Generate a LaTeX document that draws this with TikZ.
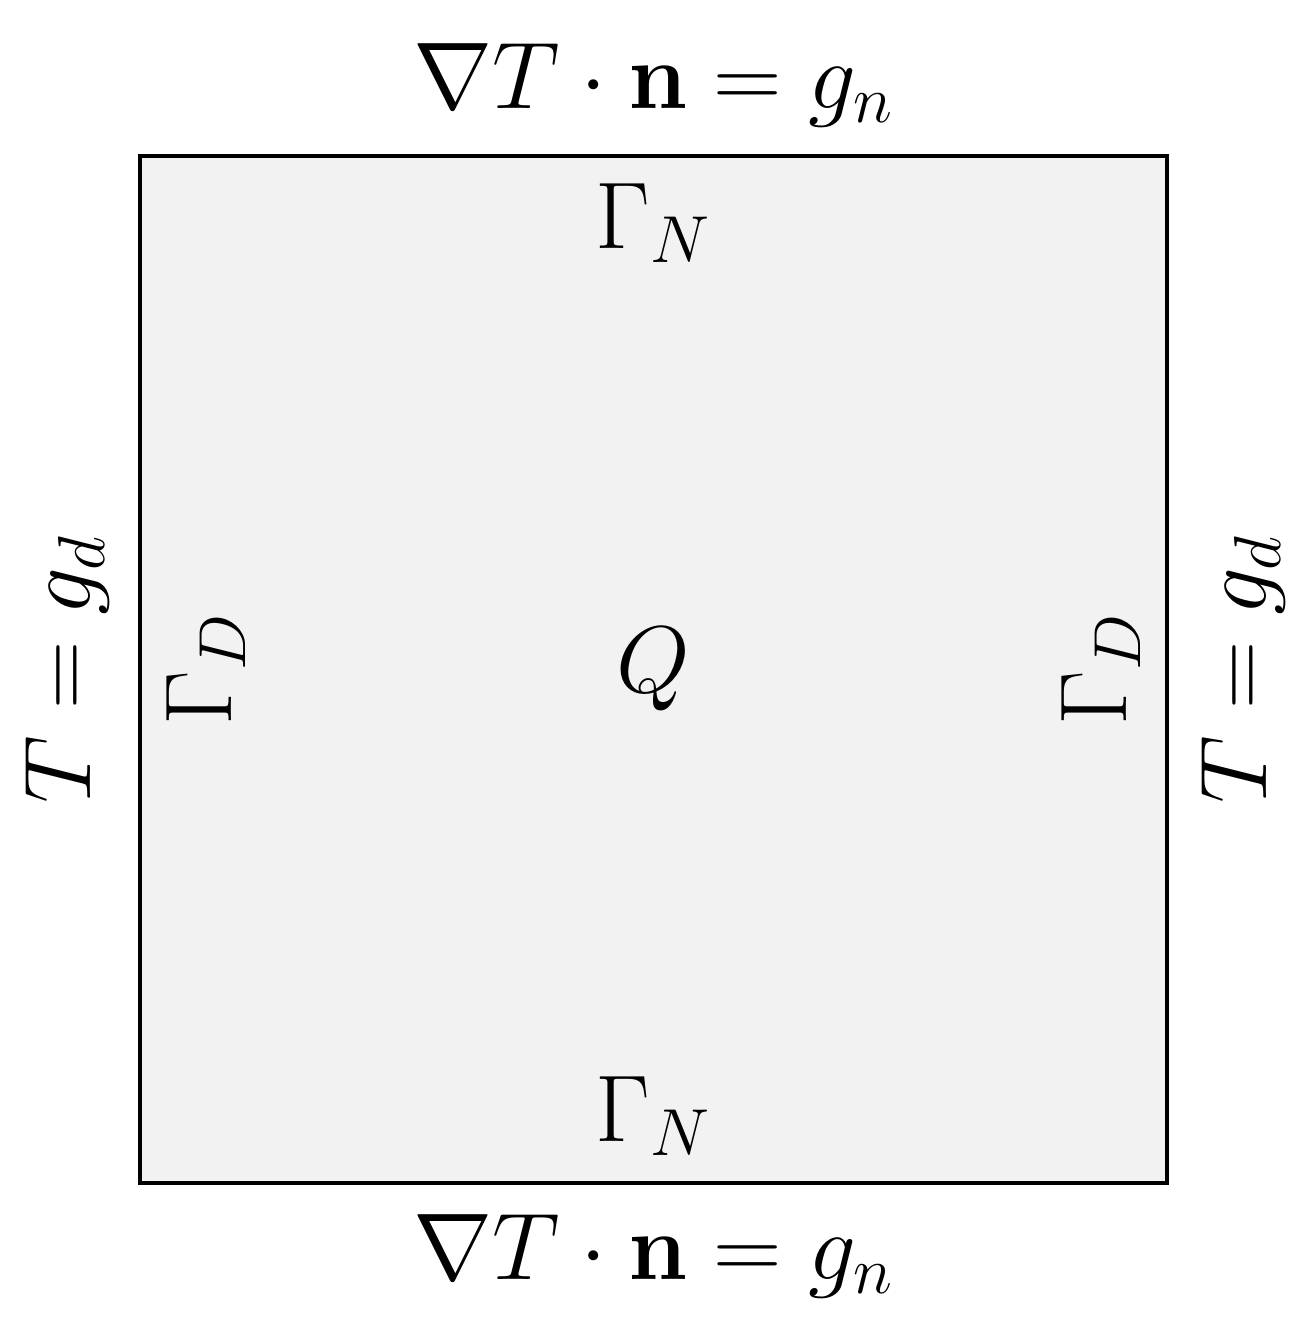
\RequirePackage{fix-cm}
\documentclass[tikz,border=0pt]{standalone}
\usepackage{amssymb}
\usepackage{xcolor}
\usetikzlibrary{positioning}
\tikzstyle{domain box}=[
        draw = black,
        line width = 0.9pt,
        fill = gray!10,
        minimum size = 10.27cm,
        inner sep = 0pt
    ]
\tikzstyle{bc label}=[
    anchor = base,
    inner sep = 0pt,
    font = \fontsize{27}{32}\selectfont
]
\begin{document}
\begin{tikzpicture}[node distance={5mm}]
        \useasboundingbox (0,0) rectangle (13.04,13.18);
        \node[domain box] (dom) at (6.535,6.485) {};
        \node[bc label, anchor = center] (q) at (dom.center) {$Q$};

        \node[bc label] (top bc) [above = 0.46cm of dom.north, anchor = base] {$\nabla T\cdot\mathbf{n} = g_n$};
        \node[bc label] (bottom bc) [below = 0.95cm of dom.south, anchor = base] {$\nabla T\cdot\mathbf{n} = g_n$};
        \node[bc label] (top gamma) [below = 0.94cm of dom.north, anchor = base] {$\Gamma_N$};
        \node[bc label] (bottom gamma) [above = 0.43cm of dom.south, anchor = base] {$\Gamma_N$};

        \node[bc label, rotate = 90] (left bc) [left = 0.48cm of dom.west, anchor = base] {$T = g_d$};
        \node[bc label, rotate = 90] (left gamma) [right = 0.93cm of dom.west, anchor = base] {$\Gamma_D$};
        \node[bc label, rotate = 90] (right gamma) [left = 0.42cm of dom.east, anchor = base] {$\Gamma_D$};
        \node[bc label, rotate = 90] (right bc) [right = 0.98cm of dom.east, anchor = base] {$T = g_d$};

    \end{tikzpicture}
\end{document}
